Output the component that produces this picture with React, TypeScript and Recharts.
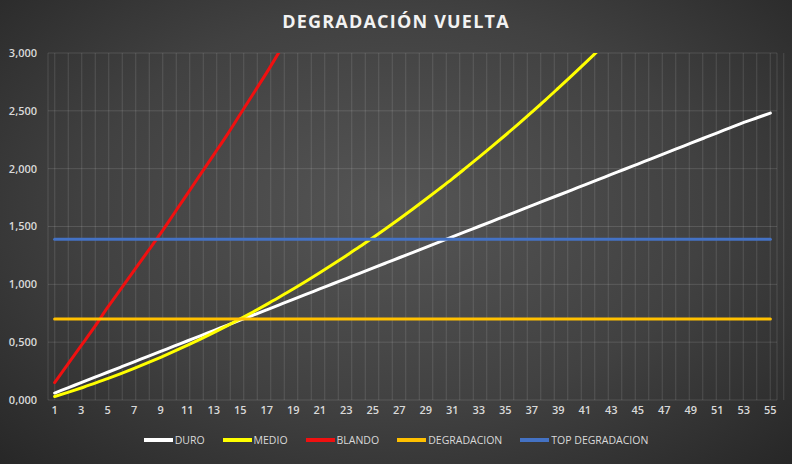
import React from "react";
import { LineChart, Line, XAxis, YAxis, CartesianGrid } from "recharts";

const VUELTAS = [
  1, 2, 3, 4, 5, 6, 7, 8, 9, 10, 11, 12, 13, 14, 15, 16, 17, 18, 19, 20,
  21, 22, 23, 24, 25, 26, 27, 28, 29, 30, 31, 32, 33, 34, 35, 36, 37, 38, 39, 40,
  41, 42, 43, 44, 45, 46, 47, 48, 49, 50, 51, 52, 53, 54, 55,
];

const DURO = [
  0.06, 0.105, 0.15, 0.195, 0.24, 0.285, 0.33, 0.375, 0.42, 0.465, 0.51, 0.555, 0.6, 0.645, 0.69,
  0.735, 0.78, 0.825, 0.87, 0.915, 0.96, 1.005, 1.05, 1.095, 1.14, 1.185, 1.23, 1.275, 1.32, 1.365,
  1.41, 1.455, 1.5, 1.545, 1.59, 1.635, 1.68, 1.725, 1.77, 1.815, 1.86, 1.905, 1.95, 1.995, 2.04,
  2.085, 2.13, 2.175, 2.22, 2.265, 2.31, 2.355, 2.4, 2.44, 2.48,
];

const MEDIO = [
  0.03, 0.066, 0.104, 0.143, 0.185, 0.228, 0.273, 0.32, 0.369, 0.42, 0.473, 0.527, 0.583, 0.641, 0.701,
  0.763, 0.827, 0.892, 0.96, 1.029, 1.1, 1.173, 1.248, 1.324, 1.403, 1.483, 1.565, 1.649, 1.735, 1.823,
  1.912, 2.004, 2.097, 2.192, 2.289, 2.388, 2.489, 2.591, 2.696, 2.802, 2.91, 3.02, 3.132,
];

const BLANDO = [
  0.15, 0.31, 0.47, 0.63, 0.8, 0.96, 1.12, 1.28, 1.44, 1.61, 1.78, 1.95, 2.12, 2.29, 2.47,
  2.65, 2.83, 3.02, 3.21,
];

const DEGRADACION = [
  0.7, 0.7, 0.7, 0.7, 0.7, 0.7, 0.7, 0.7, 0.7, 0.7, 0.7, 0.7, 0.7, 0.7, 0.7, 0.7, 0.7, 0.7, 0.7, 0.7,
  0.7, 0.7, 0.7, 0.7, 0.7, 0.7, 0.7, 0.7, 0.7, 0.7, 0.7, 0.7, 0.7, 0.7, 0.7, 0.7, 0.7, 0.7, 0.7, 0.7,
  0.7, 0.7, 0.7, 0.7, 0.7, 0.7, 0.7, 0.7, 0.7, 0.7, 0.7, 0.7, 0.7, 0.7, 0.7,
];

const TOP_DEGRADACION = [
  1.39, 1.39, 1.39, 1.39, 1.39, 1.39, 1.39, 1.39, 1.39, 1.39, 1.39, 1.39, 1.39, 1.39, 1.39, 1.39, 1.39, 1.39, 1.39, 1.39,
  1.39, 1.39, 1.39, 1.39, 1.39, 1.39, 1.39, 1.39, 1.39, 1.39, 1.39, 1.39, 1.39, 1.39, 1.39, 1.39, 1.39, 1.39, 1.39, 1.39,
  1.39, 1.39, 1.39, 1.39, 1.39, 1.39, 1.39, 1.39, 1.39, 1.39, 1.39, 1.39, 1.39, 1.39, 1.39,
];

const X_TICKS = [1, 3, 5, 7, 9, 11, 13, 15, 17, 19, 21, 23, 25, 27, 29, 31, 33, 35, 37, 39, 41, 43, 45, 47, 49, 51, 53, 55];
const Y_TICKS = [0, 0.5, 1, 1.5, 2, 2.5, 3];

const SERIES = [
  { key: "duro", name: "DURO", color: "#ffffff" },
  { key: "medio", name: "MEDIO", color: "#ffff00" },
  { key: "blando", name: "BLANDO", color: "#f01010" },
  { key: "degradacion", name: "DEGRADACION", color: "#ffc000" },
  { key: "top", name: "TOP DEGRADACION", color: "#4472c4" },
];

const data = VUELTAS.map((v, i) => ({
  vuelta: v,
  duro: DURO[i] ?? null,
  medio: MEDIO[i] ?? null,
  blando: BLANDO[i] ?? null,
  degradacion: DEGRADACION[i] ?? null,
  top: TOP_DEGRADACION[i] ?? null,
}));

// gridlines sit between the categories, like Excel does it
const gridTicks = Array.from({ length: VUELTAS.length + 1 }, (_, i) => i + 0.5);

const font = "'Open Sans', 'DejaVu Sans', sans-serif";
const tickStyle = { fontSize: 11, fill: "#d9d9d9", fontFamily: font, fontWeight: 600 };

export default function App() {
  return (
    <div
      style={{
        position: "absolute",
        left: 0,
        top: 0,
        width: 792,
        height: 464,
        background: "radial-gradient(ellipse at 50% 45%, #555555 0%, #414141 55%, #272727 100%)",
        fontFamily: font,
        overflow: "hidden",
      }}
    >
      <div
        style={{
          position: "absolute",
          top: 9,
          left: 0,
          width: 792,
          textAlign: "center",
          color: "#f2f2f2",
          fontSize: 18,
          fontWeight: 700,
          letterSpacing: 1.2,
        }}
      >
        DEGRADACIÓN VUELTA
      </div>
      <LineChart width={792} height={464} data={data} margin={{ top: 53, right: 15, bottom: 40, left: 4 }}>
        <CartesianGrid xAxisId="grid" stroke="rgba(255,255,255,0.13)" strokeWidth={1} />
        <XAxis
          dataKey="vuelta"
          type="number"
          domain={[0.5, 55.5]}
          ticks={X_TICKS}
          interval={0}
          axisLine={false}
          tickLine={false}
          tickSize={0}
          tickMargin={6}
          height={24}
          tick={tickStyle}
        />
        <XAxis xAxisId="grid" type="number" domain={[0.5, 55.5]} ticks={gridTicks} interval={0} hide />
        <YAxis
          domain={[0, 3]}
          ticks={Y_TICKS}
          allowDataOverflow
          interval={0}
          axisLine={false}
          tickLine={false}
          tickSize={0}
          tickMargin={11}
          width={44}
          tick={tickStyle}
          tickFormatter={(v: number) => v.toFixed(3).replace(".", ",")}
        />
        {SERIES.map((s) => (
          <Line
            key={s.key}
            dataKey={s.key}
            name={s.name}
            type="monotone"
            stroke={s.color}
            strokeWidth={3}
            strokeLinecap="round"
            dot={false}
            activeDot={false}
            isAnimationActive={false}
          />
        ))}
      </LineChart>
      <div
        style={{
          position: "absolute",
          top: 433,
          left: 0,
          width: 792,
          display: "flex",
          justifyContent: "center",
          gap: 18,
          color: "#d9d9d9",
          fontSize: 10.5,
        }}
      >
        {SERIES.map((s) => (
          <div key={s.key} style={{ display: "flex", alignItems: "center" }}>
            <div style={{ width: 29, height: 4, background: s.color, marginRight: 2 }} />
            <span>{s.name}</span>
          </div>
        ))}
      </div>
    </div>
  );
}
